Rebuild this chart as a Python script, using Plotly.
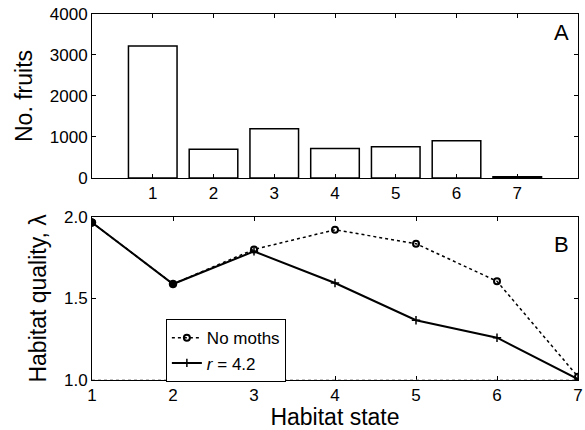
import plotly.graph_objects as go

states = [1, 2, 3, 4, 5, 6, 7]
fruits = [3220, 700, 1200, 720, 760, 910, 30]
no_moths = [1.965, 1.588, 1.80, 1.92, 1.835, 1.605, 1.02]
r42 = [1.965, 1.588, 1.788, 1.594, 1.366, 1.259, 1.005]
ytick_top = [0, 1000, 2000, 3000, 4000]
ytick_bot = [1.0, 1.5, 2.0]

FONT = "Liberation Sans, Arial, sans-serif"

fig = go.Figure()
fig.add_trace(go.Bar(x=states, y=fruits, width=0.8, marker=dict(color="white", line=dict(color="black", width=1.5)),
                     showlegend=False, xaxis="x", yaxis="y"))
fig.add_trace(go.Scatter(x=states, y=no_moths, mode="lines+markers", name="No moths",
                         line=dict(color="black", width=1.5, dash="dot"),
                         marker=dict(symbol="circle-open", size=6, color="black", line=dict(width=2)),
                         xaxis="x2", yaxis="y2"))
fig.add_trace(go.Scatter(x=states, y=r42, mode="lines+markers", name="<i>r</i> = 4.2",
                         line=dict(color="black", width=2),
                         marker=dict(symbol="cross-thin", size=6, color="black", line=dict(width=1.5, color="black")),
                         xaxis="x2", yaxis="y2"))
# filled points where both curves coincide
fig.add_trace(go.Scatter(x=states[:2], y=r42[:2], mode="markers", showlegend=False,
                         marker=dict(symbol="circle", size=8, color="black"), xaxis="x2", yaxis="y2"))

axis_common = dict(showline=True, linecolor="black", linewidth=1, mirror="allticks", ticks="inside",
                   ticklen=4, tickcolor="black", showgrid=False, zeroline=False,
                   ticklabeloverflow="allow",
                   tickfont=dict(size=17, color="black", family=FONT))

fig.update_layout(
    width=585, height=430,
    margin=dict(l=92, r=2, t=14, b=50),
    plot_bgcolor="white", paper_bgcolor="white",
    font=dict(family=FONT, color="black"),
    xaxis=dict(domain=[0, 1], range=[0, 8], tickvals=states, anchor="y", **axis_common),
    yaxis=dict(domain=[0.552, 1], range=[0, 4000], tickvals=ytick_top, anchor="x",
               title=dict(text="No. fruits", font=dict(size=23), standoff=10), **axis_common),
    xaxis2=dict(domain=[0, 1], range=[1, 7], tickvals=states, anchor="y2",
                title=dict(text="Habitat state", font=dict(size=23), standoff=2), **axis_common),
    yaxis2=dict(domain=[0, 0.446], range=[1.0, 2.0], tickvals=ytick_bot, ticktext=["1.0", "1.5", "2.0"],
                anchor="x2", title=dict(text="Habitat quality, λ", font=dict(size=23), standoff=10), **axis_common),
    legend=dict(x=0.152, y=0.166, xanchor="left", yanchor="top", bordercolor="black", borderwidth=1,
                bgcolor="white", font=dict(size=17), tracegroupgap=0, itemwidth=30),
    annotations=[
        dict(text="A", x=0.985, y=0.95, xref="paper", yref="paper", showarrow=False,
             font=dict(size=22), xanchor="right", yanchor="middle"),
        dict(text="B", x=0.985, y=0.37, xref="paper", yref="paper", showarrow=False,
             font=dict(size=22), xanchor="right", yanchor="middle"),
    ],
)
fig.add_shape(type="line", xref="x2", yref="y2", x0=1, x1=7, y0=1.0, y1=1.0,
              line=dict(color="gray", width=1, dash="dot"))

fig.write_html("out.html")
